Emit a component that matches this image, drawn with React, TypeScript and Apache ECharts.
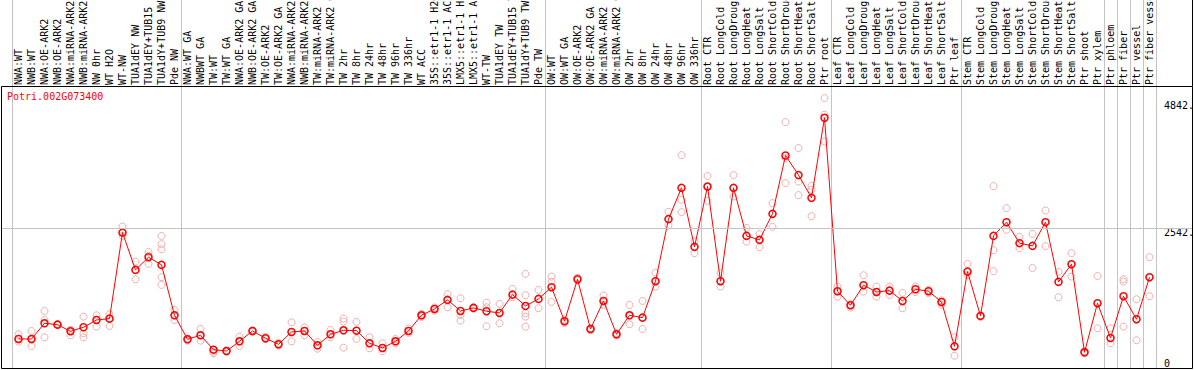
import React, { useEffect, useRef } from "react";
import * as echarts from "echarts";

const categories = [
  "NWA:WT", "NWB:WT", "NWA:OE-ARK2", "NWB:OE-ARK2", "NWA:miRNA-ARK2", "NWB:miRNA-ARK2",
  "NW 0hr", "WT H2O", "WT-NW", "TUA1dEY NW", "TUA1dEY+TUB15 NW", "TUA1dY+TUB9 NW", "Pde NW",
  "NWA:WT GA", "NWBWT GA", "TW:WT", "TW:WT GA", "NWA:OE-ARK2 GA", "NWB:OE-ARK2 GA", "TW:OE-ARK2",
  "TW:OE-ARK2 GA", "NWA:miRNA-ARK2 GA", "NWB:miRNA-ARK2 GA", "TW:miRNA-ARK2", "TW:miRNA-ARK2 GA",
  "TW 2hr", "TW 8hr", "TW 24hr", "TW 48hr", "TW 96hr", "TW 336hr", "WT ACC",
  "35S::etr1-1 H2O", "35S::etr1-1 ACC", "LMX5::etr1-1 H2O", "LMX5::etr1-1 ACC",
  "WT-TW", "TUA1dEY TW", "TUA1dEY+TUB15 TW", "TUA1dY+TUB9 TW", "Pde TW",
  "OW:WT", "OW:WT GA", "OW:OE-ARK2", "OW:OE-ARK2 GA", "OW:miRNA-ARK2", "OW:miRNA-ARK2 GA",
  "OW 2hr", "OW 8hr", "OW 24hr", "OW 48hr", "OW 96hr", "OW 336hr",
  "Root CTR", "Root LongCold", "Root LongDrought", "Root LongHeat", "Root LongSalt",
  "Root ShortCold", "Root ShortDrought", "Root ShortHeat", "Root ShortSalt", "Ptr root",
  "Leaf CTR", "Leaf LongCold", "Leaf LongDrought", "Leaf LongHeat", "Leaf LongSalt",
  "Leaf ShortCold", "Leaf ShortDrought", "Leaf ShortHeat", "Leaf ShortSalt", "Ptr leaf",
  "Stem CTR", "Stem LongCold", "Stem LongDrought", "Stem LongHeat", "Stem LongSalt",
  "Stem ShortCold", "Stem ShortDrought", "Stem ShortHeat", "Stem ShortSalt", "Ptr shoot",
  "Ptr xylem", "Ptr phloem", "Ptr fiber", "Ptr vessel", "Ptr fiber vessel",
];

const means = [
  531, 531, 815, 790, 670, 743, 875, 899, 2457, 1781, 2011, 1872, 960,
  525, 598, 337, 313, 489, 676, 544, 435, 658, 676, 417, 616, 688, 681, 453, 368, 489, 676,
  960, 1074, 1238, 1038, 1093, 1033, 1002, 1334, 1129, 1256,
  1468, 852, 1612, 712, 1219, 616, 960, 917, 1576, 2700, 3267, 2198,
  3290, 1576, 3267, 2397, 2325, 2796, 3852, 3497, 3086, 4535,
  1395, 1141, 1504, 1382, 1406, 1219, 1431, 1395, 1201, 398,
  1750, 948, 2397, 2645, 2265, 2216, 2645, 1564, 1884, 290,
  1178, 549, 1305, 888, 1649,
];

const replicates = [
  [616, 482, 531], [676, 404, 520], [1038, 875, 562], [780, 800, 790], [694, 598, 690],
  [935, 634, 562], [960, 875, 754], [978, 766, 899], [2566, 2457, 2397], [1931, 1612, 1781],
  [2107, 1890, 2035], [2397, 2247, 2156, 1649, 1509], [1056, 875, 960],
  [540, 500, 530], [712, 500, 598], [272, 301, 337], [313, 300, 325], [573, 404, 489],
  [690, 660, 676], [570, 544, 530], [460, 410, 435], [833, 489, 658], [743, 598, 676],
  [476, 355, 417], [694, 562, 616], [899, 845, 373], [839, 531, 681], [562, 362, 453],
  [453, 308, 368], [530, 450, 489], [720, 640, 676], [990, 930, 960], [1100, 1040, 1074],
  [1341, 1105, 1238], [1268, 960, 863], [1105, 1080, 1093], [1189, 1105, 761], [1165, 815, 1002],
  [1437, 1286, 1334], [1709, 1323, 997, 935, 754], [1419, 1087, 1256],
  [1660, 1569, 1201], [880, 820, 852], [1640, 1590, 1612], [712, 690, 730], [1316, 1147, 1219],
  [616, 590, 640], [1147, 797, 960], [1219, 712, 917], [1732, 1479, 1576], [2832, 2591, 2700],
  [3859, 3050, 2827], [2294, 2084, 2198],
  [3479, 3031, 3290], [1727, 1479, 1576], [3497, 3109, 3267], [2542, 2294, 2397], [2428, 2192, 2325],
  [2990, 2560, 2796], [4457, 3352, 3805], [3986, 3381, 3135], [3303, 3231, 2754], [4892, 4590, 4106],
  [1479, 1297, 1395], [1100, 1160, 1141], [1685, 1388, 1504], [1479, 1297, 1382], [1479, 1328, 1406],
  [1364, 1087, 1219], [1480, 1380, 1431], [1420, 1360, 1395], [1230, 1150, 1201], [562, 228, 398],
  [1890, 1685, 1750], [948, 930, 960], [3298, 2138, 1758], [2899, 2506, 2645], [2379, 2174, 2265],
  [2433, 1817, 2216], [2856, 2211, 2645], [1745, 1286, 1564], [2084, 1660, 1884], [310, 270, 290],
  [1672, 725, 1178], [725, 453, 549], [1612, 1569, 754], [1250, 507, 888], [2011, 1305, 1649],
];

const yTickLabels = [2542, 4842];
const yZeroLabel = [0];
const gridLineValues = [2542];
const groupStarts = [0, 13, 41, 53, 63, 73, 84, 85, 86, 87];
const chartTitle = "Potri.002G073400";

export default function App() {
  const ref = useRef<HTMLDivElement>(null);
  useEffect(() => {
    document.body.style.margin = "0";
    const chart = echarts.init(ref.current as HTMLDivElement, null, { renderer: "svg" });
    const font = "'DejaVu Sans Mono', monospace";
    const L = 12, W = 1144, T = 86, H = 282.3;
    const YMAX = 5110;
    const scatterData: number[][] = [];
    replicates.forEach((reps, i) => reps.forEach((v) => scatterData.push([i, v])));
    const gridBase = { containLabel: false, outerBoundsMode: "none" };
    chart.setOption({
      animation: false,
      title: {
        text: chartTitle,
        left: 7,
        top: 91,
        padding: 0,
        textStyle: { color: "#ff0000", fontSize: 10, fontFamily: font, fontWeight: "normal" },
      },
      grid: [
        { ...gridBase, left: L, top: 0, width: W, height: T + H },
        { ...gridBase, left: L, top: T, width: W, height: H },
        { ...gridBase, left: 2, top: T, width: 1190, height: H },
        { ...gridBase, left: L, top: T, width: W, height: H },
      ],
      xAxis: [
        {
          type: "category", gridIndex: 0, data: categories, boundaryGap: true,
          axisLine: { show: false }, axisTick: { show: false }, axisLabel: { show: false },
          splitLine: {
            show: true,
            interval: (i: number) => groupStarts.indexOf(i) >= 0,
            lineStyle: { color: "#c4c4c4", width: 1 },
          },
        },
        {
          type: "category", gridIndex: 1, position: "top", data: categories, boundaryGap: true,
          axisLine: { show: false }, axisTick: { show: false }, splitLine: { show: false },
          axisLabel: { interval: 0, rotate: 90, margin: 1, fontFamily: font, fontSize: 10, color: "#000" },
        },
        { type: "value", gridIndex: 2, min: 0, max: 1, show: false },
        { type: "value", gridIndex: 3, min: 0, max: 1, show: false },
      ],
      yAxis: [
        { type: "value", gridIndex: 0, min: 0, max: 1, show: false },
        {
          type: "value", gridIndex: 1, min: 0, max: YMAX, position: "right",
          axisLine: { show: false }, axisTick: { show: false }, splitLine: { show: false },
          axisLabel: {
            customValues: yTickLabels, formatter: (v: number) => v + ".", margin: 8,
            verticalAlign: "top", fontFamily: font, fontSize: 10, color: "#000",
          },
        },
        { type: "value", gridIndex: 2, min: 0, max: YMAX, show: false },
        {
          type: "value", gridIndex: 3, min: 0, max: YMAX, position: "right",
          axisLine: { show: false }, axisTick: { show: false }, splitLine: { show: false },
          axisLabel: {
            customValues: yZeroLabel, formatter: (v: number) => String(v), margin: 8,
            verticalAlign: "bottom", fontFamily: font, fontSize: 10, color: "#000",
          },
        },
      ],
      graphic: [
        {
          type: "rect", z: 100, silent: true,
          shape: { x: 1.5, y: 86.5, width: 1191, height: 282 },
          style: { fill: "none", stroke: "#000", lineWidth: 1 },
        },
        {
          type: "line", z: 100, silent: true,
          shape: { x1: 1192.5, y1: 0, x2: 1192.5, y2: 86 },
          style: { stroke: "#000", lineWidth: 1 },
        },
      ],
      series: [
        {
          type: "line", xAxisIndex: 2, yAxisIndex: 2, data: [[0, 0]], showSymbol: false,
          lineStyle: { width: 0 }, silent: true,
          markLine: {
            silent: true, symbol: ["none", "none"], label: { show: false },
            lineStyle: { color: "#c4c4c4", type: "solid", width: 1 },
            data: gridLineValues.map((v) => ({ yAxis: v })),
          },
        },
        {
          type: "scatter", xAxisIndex: 1, yAxisIndex: 1, data: scatterData, symbol: "circle",
          symbolSize: 7, z: 2,
          itemStyle: { color: "rgba(0,0,0,0)", borderColor: "#ee9a9a", borderWidth: 1 },
        },
        {
          type: "line", xAxisIndex: 1, yAxisIndex: 1, data: means, symbol: "circle",
          symbolSize: 7, z: 3,
          lineStyle: { color: "#ff0000", width: 1 },
          itemStyle: { color: "rgba(0,0,0,0)", borderColor: "#ff0000", borderWidth: 1.5 },
        },
      ],
    });
    return () => chart.dispose();
  }, []);
  return <div ref={ref} style={{ width: 1194, height: 370 }} />;
}
